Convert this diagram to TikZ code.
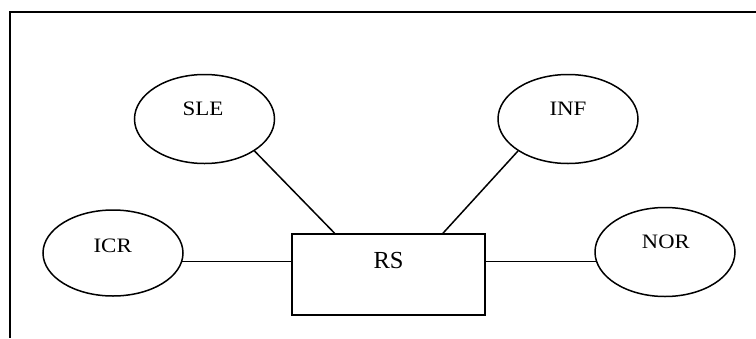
\documentclass[tikz,border=0pt]{standalone}
\usepackage{fontspec}
\setmainfont{Liberation Serif}
\usetikzlibrary{shapes.geometric,calc}
\tikzset{
  ent/.style={draw, ellipse, line width=1.5pt, minimum width=140pt, minimum height=89pt, inner sep=0pt},
  relbox/.style={draw, rectangle, line width=1.5pt, minimum width=193pt, minimum height=81pt, inner sep=0pt},
  lbl/.style={inner sep=0pt, font=\fontsize{20.5}{23}\selectfont},
  biglbl/.style={inner sep=0pt, font=\fontsize{24.5}{27}\selectfont},
  link/.style={line width=1.5pt},
  frame/.style={line width=1.6pt}
}
\begin{document}
\begin{tikzpicture}[x=1pt,y=-1pt]
\useasboundingbox (0,0) rectangle (756,338);
% frame
\coordinate (ftr) at (756,12);
\coordinate (ftl) at (10,12);
\coordinate (fbl) at (10,338);
\draw[frame] (ftr) -- (ftl) -- (fbl);
% shapes
\node[ent] (sle) at (204.5,119) {};
\node[ent] (inf) at (568,119) {};
\node[ent, minimum height=86pt] (icr) at (113,253) {};
\node[ent] (nor) at (665,252) {};
\node[relbox] (rs) at (388.5,274.5) {};
% labels
\node[lbl] (slet) at (203,109) {\scalebox{1.12}[1]{SLE}};
\node[lbl] (inft) at (568,109) {\scalebox{1.12}[1]{INF}};
\node[lbl] (icrt) at (112.7,246) {\scalebox{1.12}[1]{ICR}};
\node[lbl] (nort) at (665.8,242) {\scalebox{1.1}[1]{NOR}};
\node[biglbl] (rst) at (388.5,261) {RS};
% connectors
\draw[link] (sle.south east) -- ($(rs.north west)!0.223!(rs.north east)$);
\draw[link] (inf.south west) -- ($(rs.north west)!0.78!(rs.north east)$);
\draw[link] (icr.-7.4) -- (icr.-7.4 -| rs.west);
\draw[link] (nor.188.4) -- (nor.188.4 -| rs.east);
\end{tikzpicture}
\end{document}
